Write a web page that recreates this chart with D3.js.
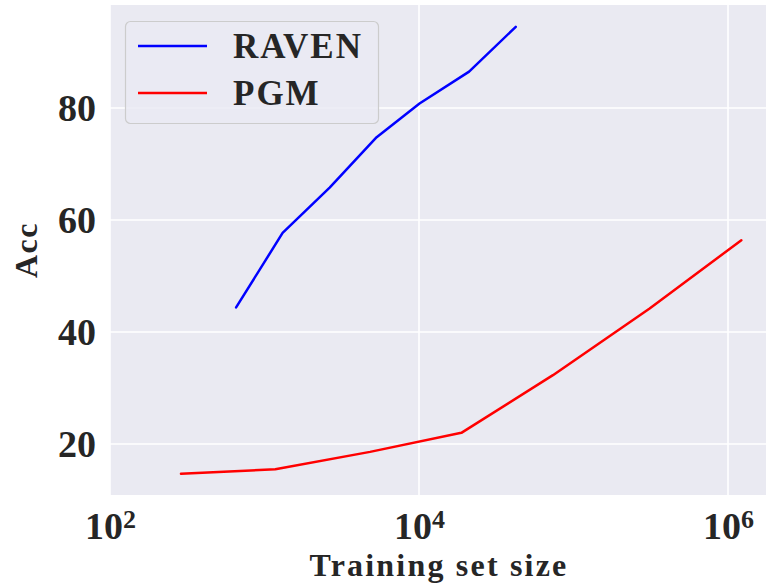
<!DOCTYPE html>
<html>
<head>
<meta charset="utf-8">
<script src="https://cdn.jsdelivr.net/npm/d3@7"></script>
<style>
  html, body { margin: 0; padding: 0; background: #ffffff; }
  svg { display: block; }
  text { font-family: "Liberation Serif", "DejaVu Serif", serif; font-weight: bold; fill: #262626; }
</style>
</head>
<body>
<svg id="chart" width="766" height="583"></svg>
<script>
// ---- data ----
const ravenSizes = [655, 1310, 2640, 5320, 10080, 21100, 42300];
const ravenAcc   = [44.4, 57.7, 65.8, 74.8, 80.8, 86.5, 94.5];
const pgmSizes   = [288, 1175, 4820, 18800, 73600, 311000, 1220000];
const pgmAcc     = [14.7, 15.5, 18.6, 22.0, 32.3, 44.2, 56.4];
const xTickExps  = [2, 4, 6];
const yTicks     = [20, 40, 60, 80];
const seriesNames = ["RAVEN", "PGM"];
const seriesColors = ["#0000ff", "#ff0000"];

const svg = d3.select("#chart");
const L = 110, R = 766, T = 5, B = 495;

const x = d3.scaleLog().domain([100, Math.pow(10, 2 + (R - L) / 154.5)]).range([L, R]);
const y = d3.scaleLinear().domain([10.9, 98.4]).range([B, T]);

// background
svg.append("rect").attr("x", L).attr("y", T).attr("width", R - L).attr("height", B - T).attr("fill", "#eaeaf2");

// grid
const grid = svg.append("g");
grid.selectAll("line.gy").data(yTicks).enter().append("line")
  .attr("x1", L).attr("x2", R).attr("y1", d => y(d)).attr("y2", d => y(d))
  .attr("stroke", "#ffffff").attr("stroke-width", 1.6);
grid.selectAll("line.gx").data(xTickExps).enter().append("line")
  .attr("y1", T).attr("y2", B).attr("x1", d => x(Math.pow(10, d))).attr("x2", d => x(Math.pow(10, d)))
  .attr("stroke", "#ffffff").attr("stroke-width", 1.6);

// axes (labels only)
const yAxis = d3.axisLeft(y).tickValues(yTicks).tickSize(0).tickPadding(14);
const gy = svg.append("g").attr("transform", `translate(${L},0)`).call(yAxis);
gy.select(".domain").remove();
gy.selectAll("text").style("font-size", "38px").attr("fill", "#262626")
  .style("font-family", '"Liberation Serif", serif').style("font-weight", "bold");

const xAxis = d3.axisBottom(x).tickValues(xTickExps.map(e => Math.pow(10, e))).tickSize(0).tickPadding(10)
  .tickFormat(() => "");
const gx = svg.append("g").attr("transform", `translate(0,${B})`).call(xAxis);
gx.select(".domain").remove();
gx.selectAll(".tick text").each(function(d) {
  const t = d3.select(this);
  t.text(null).style("font-size", "38px").attr("fill", "#262626").attr("dy", "0.9em")
   .attr("text-anchor", "middle");
  t.append("tspan").text("10");
  t.append("tspan").text(String(Math.round(Math.log10(d)))).attr("dy", "-0.45em").style("font-size", "26px");
});

// lines
const line = d3.line().x(d => x(d[0])).y(d => y(d[1]));
const ravenData = ravenSizes.map((s, i) => [s, ravenAcc[i]]);
const pgmData = pgmSizes.map((s, i) => [s, pgmAcc[i]]);
[ravenData, pgmData].forEach((data, i) => {
  svg.append("path").datum(data).attr("d", line).attr("fill", "none")
    .attr("stroke", seriesColors[i]).attr("stroke-width", 2.5)
    .attr("stroke-linejoin", "round").attr("stroke-linecap", "round");
});

// axis titles
svg.append("text").attr("x", 439).attr("y", 576).attr("text-anchor", "middle")
  .style("font-size", "32px").style("letter-spacing", "2.2px").text("Training set size");
svg.append("text").attr("transform", "translate(37,250) rotate(-90)").attr("text-anchor", "middle")
  .style("font-size", "32px").style("letter-spacing", "1.5px").text("Acc");

// legend
const lg = svg.append("g");
lg.append("rect").attr("x", 125.5).attr("y", 21.5).attr("width", 253).attr("height", 102)
  .attr("rx", 5).attr("fill", "#eaeaf2").attr("fill-opacity", 0.8)
  .attr("stroke", "#cccccc").attr("stroke-width", 1.2);
seriesNames.forEach((name, i) => {
  const yy = 46 + i * 47;
  lg.append("line").attr("x1", 138).attr("x2", 207).attr("y1", yy).attr("y2", yy)
    .attr("stroke", seriesColors[i]).attr("stroke-width", 2.5);
  lg.append("text").attr("x", 233).attr("y", yy + 12).style("font-size", "35px")
    .style("letter-spacing", "2px").text(name);
});
</script>
</body>
</html>
